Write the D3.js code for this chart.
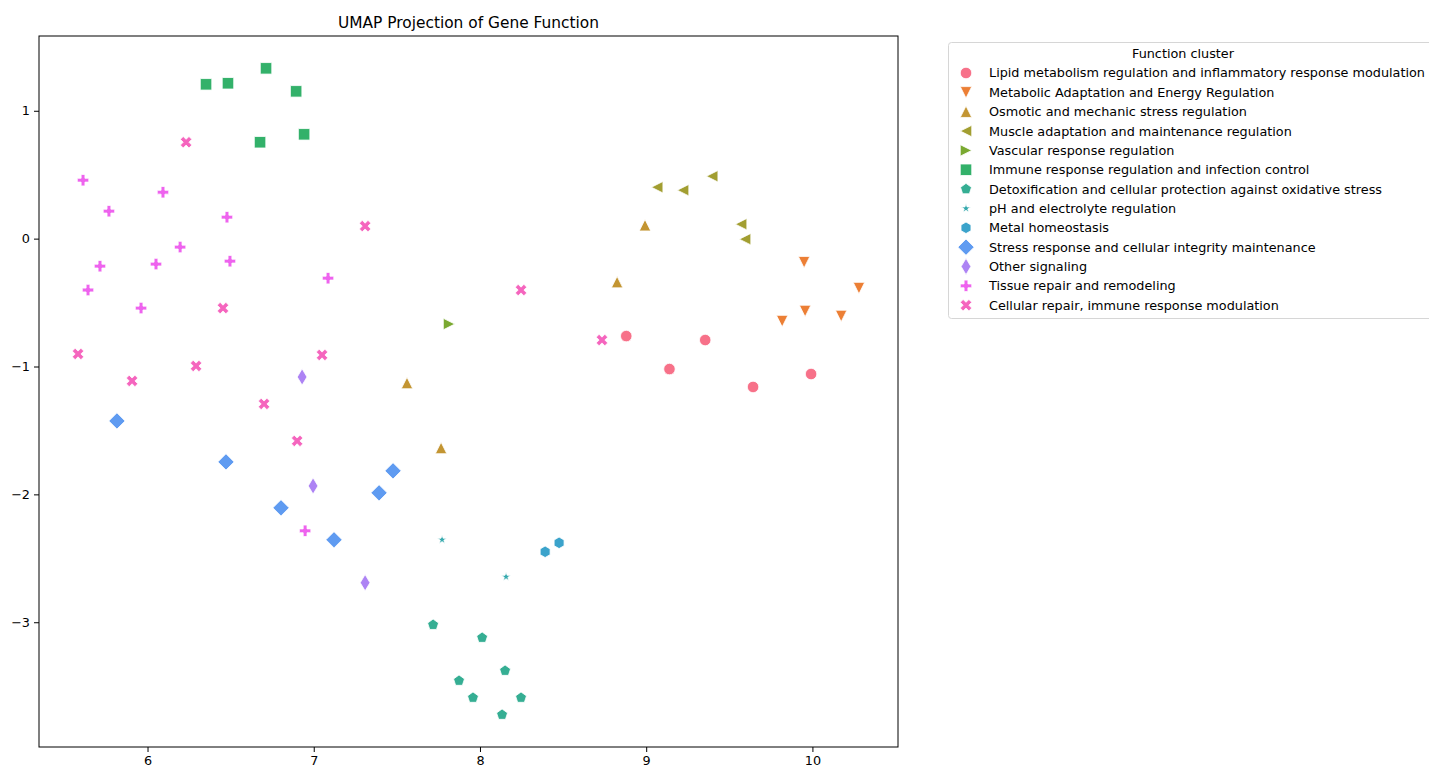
<!DOCTYPE html>
<html>
<head>
<meta charset="utf-8">
<script src="https://cdn.jsdelivr.net/npm/d3@7"></script>
<style>
  body { margin: 0; background: #fff; }
  text { font-family: "DejaVu Sans", sans-serif; fill: #000; }
</style>
</head>
<body>
<svg id="plot" width="1429" height="767"></svg>
<script>
const width = 1429;
const height = 767;

const clusters = [
  "Lipid metabolism regulation and inflammatory response modulation",
  "Metabolic Adaptation and Energy Regulation",
  "Osmotic and mechanic stress regulation",
  "Muscle adaptation and maintenance regulation",
  "Vascular response regulation",
  "Immune response regulation and infection control",
  "Detoxification and cellular protection against oxidative stress",
  "pH and electrolyte regulation",
  "Metal homeostasis",
  "Stress response and cellular integrity maintenance",
  "Other signaling",
  "Tissue repair and remodeling",
  "Cellular repair, immune response modulation"
];

// one entry per gene: cluster index, UMAP 1, UMAP 2
const pointCluster = [
  0, 0, 0, 0, 0,
  1, 1, 1, 1, 1,
  2, 2, 2, 2,
  3, 3, 3, 3, 3,
  4,
  5, 5, 5, 5, 5, 5,
  6, 6, 6, 6, 6, 6, 6,
  7, 7,
  8, 8,
  9, 9, 9, 9, 9, 9,
  10, 10, 10,
  11, 11, 11, 11, 11, 11, 11, 11, 11, 11, 11, 11,
  12, 12, 12, 12, 12, 12, 12, 12, 12, 12, 12
];
const umapX = [
  8.88, 9.14, 9.355, 9.643, 9.992,
  9.95, 10.28, 9.818, 9.956, 10.173,
  8.825, 8.993, 7.561, 7.766,
  9.066, 9.222, 9.397, 9.571, 9.595,
  7.814,
  6.352, 6.484, 6.713, 6.894, 6.677, 6.942,
  7.718, 8.013, 8.151, 7.874, 7.958, 8.247, 8.133,
  7.772, 8.157,
  8.392, 8.476,
  5.816, 6.472, 6.803, 7.122, 7.393, 7.477,
  6.93, 6.996, 7.309,
  5.612, 5.768, 6.093, 6.478, 5.714, 6.196, 6.051, 6.496, 5.642, 5.961, 7.086, 6.948,
  6.232, 7.309, 8.247, 8.734, 5.582, 5.907, 6.292, 6.454, 7.05, 6.701, 6.9
];
const umapY = [
  -0.762, -1.02, -0.793, -1.16, -1.059,
  -0.184, -0.387, -0.645, -0.566, -0.605,
  -0.34, 0.105, -1.129, -1.637,
  0.402, 0.379, 0.488, 0.113, -0.004,
  -0.668,
  1.207, 1.215, 1.332, 1.152, 0.754, 0.816,
  -3.02, -3.121, -3.379, -3.457, -3.59, -3.59, -3.723,
  -2.355, -2.645,
  -2.449, -2.379,
  -1.426, -1.746, -2.105, -2.355, -1.988, -1.816,
  -1.082, -1.934, -2.691,
  0.457, 0.215, 0.363, 0.168, -0.215, -0.066, -0.199, -0.176, -0.402, -0.543, -0.309, -2.285,
  0.754, 0.098, -0.402, -0.793, -0.902, -1.113, -0.996, -0.543, -0.91, -1.293, -1.582
];

const xTicks = [6, 7, 8, 9, 10];
const yTicks = [-3, -2, -1, 0, 1];

const palette = [
  "#f77189", "#ec7f35", "#c39532", "#a29e31", "#7aa931", "#33b16a", "#35ae93",
  "#37aaae", "#3ba3cb", "#5f9bf1", "#ad83f4", "#ee63ee", "#f565be"
];

// matplotlib-like marker outlines, unit size (span ~1), svg y-down
function regular(n, r, rot) {
  return d3.range(n).map(i => {
    const a = rot + i * 2 * Math.PI / n;
    return [r * Math.cos(a), r * Math.sin(a)];
  });
}
function star(r, inner) {
  return d3.range(10).map(i => {
    const a = -Math.PI / 2 + i * Math.PI / 5;
    const rr = i % 2 ? r * inner : r;
    return [rr * Math.cos(a), rr * Math.sin(a)];
  });
}
const shapes = [
  null,
  [[0, 0.5], [-0.5, -0.5], [0.5, -0.5]],
  [[0, -0.5], [-0.5, 0.5], [0.5, 0.5]],
  [[-0.5, 0], [0.5, -0.5], [0.5, 0.5]],
  [[0.5, 0], [-0.5, -0.5], [-0.5, 0.5]],
  [[-0.5, -0.5], [0.5, -0.5], [0.5, 0.5], [-0.5, 0.5]],
  regular(5, 0.5, -Math.PI / 2),
  star(0.42, 0.381966),
  regular(6, 0.5, -Math.PI / 2),
  [[0, -0.707], [0.707, 0], [0, 0.707], [-0.707, 0]],
  [[0, -0.707], [0.424, 0], [0, 0.707], [-0.424, 0]],
  [[-1, -3], [1, -3], [1, -1], [3, -1], [3, 1], [1, 1], [1, 3], [-1, 3], [-1, 1], [-3, 1], [-3, -1], [-1, -1]].map(p => [p[0] / 6, p[1] / 6]),
  [[-1, -2], [0, -1], [1, -2], [2, -1], [1, 0], [2, 1], [1, 2], [0, 1], [-1, 2], [-2, 1], [-1, 0], [-2, -1]].map(p => [p[0] / 4, p[1] / 4])
];
const markerSize = 11.5;

function markerPath(k, L) {
  if (shapes[k] === null) {
    return d3.symbol().type(d3.symbolCircle).size(Math.PI * (L / 2) * (L / 2))();
  }
  return "M" + shapes[k].map(p => [p[0] * L, p[1] * L].join(",")).join("L") + "Z";
}

const svg = d3.select("#plot");
const m = { left: 39, top: 36, right: 898, bottom: 747 };

const xExt = d3.extent(umapX), yExt = d3.extent(umapY);
const xPad = (xExt[1] - xExt[0]) * 0.05, yPad = (yExt[1] - yExt[0]) * 0.05;
const x = d3.scaleLinear().domain([xExt[0] - xPad, xExt[1] + xPad]).range([m.left, m.right]);
const y = d3.scaleLinear().domain([yExt[0] - yPad, yExt[1] + yPad]).range([m.bottom, m.top]);

const fmt = d => String(d).replace("-", "\u2212");

svg.append("g")
  .attr("transform", `translate(0,${m.bottom})`)
  .call(d3.axisBottom(x).tickValues(xTicks).tickFormat(fmt).tickSize(5).tickPadding(4))
  .call(g => g.select(".domain").remove())
  .call(g => g.selectAll("text").style("font-size", "12.8px").style("font-family", "DejaVu Sans"));

svg.append("g")
  .attr("transform", `translate(${m.left},0)`)
  .call(d3.axisLeft(y).tickValues(yTicks).tickFormat(fmt).tickSize(5).tickPadding(4))
  .call(g => g.select(".domain").remove())
  .call(g => g.selectAll("text").style("font-size", "12.8px").style("font-family", "DejaVu Sans"));

svg.append("rect")
  .attr("x", m.left).attr("y", m.top)
  .attr("width", m.right - m.left).attr("height", m.bottom - m.top)
  .attr("fill", "none").attr("stroke", "#000").attr("stroke-width", 1);

svg.append("text")
  .attr("x", (m.left + m.right) / 2).attr("y", 28)
  .attr("text-anchor", "middle")
  .style("font-size", "15.4px")
  .text("UMAP Projection of Gene Function");

const pts = pointCluster.map((c, i) => ({ c, x: umapX[i], y: umapY[i] }));

svg.append("g").selectAll("path")
  .data(pts)
  .join("path")
  .attr("transform", d => `translate(${x(d.x)},${y(d.y)})`)
  .attr("d", d => markerPath(d.c, markerSize))
  .attr("fill", d => palette[d.c])
  .attr("stroke", "#fff")
  .attr("stroke-width", 0.8);

// legend
const lg = svg.append("g");
lg.append("rect")
  .attr("x", 948.5).attr("y", 42.5).attr("width", 490).attr("height", 276)
  .attr("rx", 3).attr("fill", "#fff").attr("stroke", "#d6d6d6");
lg.append("text")
  .attr("x", 1183).attr("y", 58)
  .attr("text-anchor", "middle")
  .style("font-size", "12.8px")
  .text("Function cluster");

const rows = lg.selectAll("g.row")
  .data(clusters)
  .join("g")
  .attr("class", "row")
  .attr("transform", (d, i) => `translate(966,${73 + i * 19.35})`);
rows.append("path")
  .attr("d", (d, i) => markerPath(i, markerSize))
  .attr("fill", (d, i) => palette[i])
  .attr("stroke", "#fff")
  .attr("stroke-width", 0.8);
rows.append("text")
  .attr("x", 23).attr("dy", "0.35em")
  .style("font-size", "12.8px")
  .text(d => d);
</script>
</body>
</html>
